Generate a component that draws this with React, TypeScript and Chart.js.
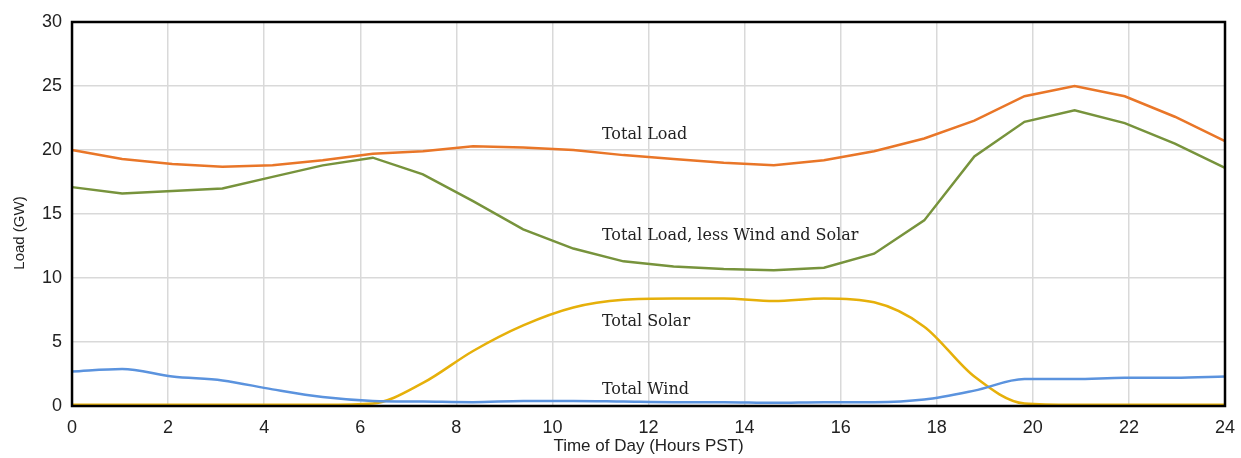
import React, { useEffect, useRef } from "react";
import { Chart, registerables } from "chart.js";

Chart.register(...registerables);

// 24 hourly samples spread evenly over the 0–24 h axis
const hours = ["1","2","3","4","5","6","7","8","9","10","11","12","13","14","15","16","17","18","19","20","21","22","23","24"];
const totalLoad = [20.0, 19.3, 18.9, 18.7, 18.8, 19.2, 19.7, 19.9, 20.3, 20.2, 20.0, 19.6, 19.3, 19.0, 18.8, 19.2, 19.9, 20.9, 22.3, 24.2, 25.0, 24.2, 22.6, 20.7];
const netLoad = [17.1, 16.6, 16.8, 17.0, 17.9, 18.8, 19.4, 18.1, 16.0, 13.8, 12.3, 11.3, 10.9, 10.7, 10.6, 10.8, 11.9, 14.5, 19.5, 22.2, 23.1, 22.1, 20.5, 18.6];
const totalSolar = [0.1, 0.1, 0.1, 0.1, 0.1, 0.1, 0.2, 1.8, 4.3, 6.3, 7.7, 8.3, 8.4, 8.4, 8.2, 8.4, 8.1, 6.2, 2.3, 0.2, 0.1, 0.1, 0.1, 0.1];
const totalWind = [2.7, 2.9, 2.3, 2.0, 1.3, 0.7, 0.4, 0.35, 0.3, 0.4, 0.4, 0.35, 0.3, 0.3, 0.25, 0.3, 0.3, 0.5, 1.2, 2.1, 2.1, 2.2, 2.2, 2.3];

const xTicks = [0, 2, 4, 6, 8, 10, 12, 14, 16, 18, 20, 22, 24];
const yTicks = [0, 5, 10, 15, 20, 25, 30];
const yTitle = "Load (GW)";
const xTitle = "Time of Day (Hours PST)";

// in-chart series labels, anchored in data units (hour, GW)
const labelTexts = ["Total Load", "Total Load, less Wind and Solar", "Total Solar", "Total Wind"];
const labelHours = [11.03, 11.03, 11.03, 11.03];
const labelValues = [21.2, 13.3, 6.6, 1.3];

const seriesLabelsPlugin = {
  id: "seriesLabels",
  afterDatasetsDraw(chart: any) {
    const { ctx, scales } = chart;
    ctx.save();
    ctx.font = "16px 'DejaVu Serif', 'Liberation Serif', serif";
    ctx.fillStyle = "#222";
    ctx.textAlign = "left";
    ctx.textBaseline = "middle";
    labelTexts.forEach((t, i) => {
      ctx.fillText(t, scales.x.getPixelForValue(labelHours[i]), scales.y.getPixelForValue(labelValues[i]));
    });
    ctx.restore();
  },
};

const yTitlePlugin = {
  id: "yTitle",
  afterDraw(chart: any) {
    const { ctx } = chart;
    ctx.save();
    ctx.translate(20, 233);
    ctx.rotate(-Math.PI / 2);
    ctx.font = "15px 'Liberation Sans', Arial, sans-serif";
    ctx.fillStyle = "#222";
    ctx.textAlign = "center";
    ctx.textBaseline = "middle";
    ctx.fillText(yTitle, 0, 0);
    ctx.restore();
  },
};

const borderPlugin = {
  id: "plotBorder",
  afterDatasetsDraw(chart: any) {
    const { ctx, chartArea } = chart;
    ctx.save();
    ctx.strokeStyle = "#000";
    ctx.lineWidth = 2.5;
    ctx.strokeRect(chartArea.left, chartArea.top, chartArea.right - chartArea.left, chartArea.bottom - chartArea.top);
    ctx.restore();
  },
};

export default function App() {
  const ref = useRef<HTMLCanvasElement>(null);
  useEffect(() => {
    document.body.style.margin = "0";
    const chart = new Chart(ref.current!, {
      type: "line",
      data: {
        labels: hours,
        datasets: [
          { label: "Total Load", data: totalLoad, borderColor: "#E97628", borderWidth: 2.5, tension: 0, pointRadius: 0, xAxisID: "xc" },
          { label: "Total Load, less Wind and Solar", data: netLoad, borderColor: "#77933C", borderWidth: 2.5, tension: 0, pointRadius: 0, xAxisID: "xc" },
          { label: "Total Wind", data: totalWind, borderColor: "#5B93DE", borderWidth: 2.5, tension: 0.4, cubicInterpolationMode: "monotone", pointRadius: 0, xAxisID: "xc" },
          { label: "Total Solar", data: totalSolar, borderColor: "#E6B00A", borderWidth: 2.5, tension: 0.4, cubicInterpolationMode: "monotone", pointRadius: 0, xAxisID: "xc" },
        ],
      },
      options: {
        animation: false,
        responsive: false,
        maintainAspectRatio: false,
        layout: { padding: { left: 32, right: 16, top: 22, bottom: 1 } },
        plugins: { legend: { display: false }, tooltip: { enabled: false } },
        scales: {
          xc: { type: "category", display: false, offset: false },
          x: {
            type: "linear",
            position: "bottom",
            min: 0,
            max: 24,
            afterBuildTicks: (axis: any) => { axis.ticks = xTicks.map((v) => ({ value: v })); },
            afterFit: (axis: any) => { axis.paddingLeft = 0; axis.paddingRight = 0; },
            ticks: { color: "#222", font: { family: "'Liberation Sans', Arial, sans-serif", size: 18 }, padding: 11, maxRotation: 0 },
            grid: { color: "#d9d9d9", lineWidth: 1.5, drawTicks: false },
            border: { display: false },
            title: { display: true, text: xTitle, color: "#222", font: { family: "'Liberation Sans', Arial, sans-serif", size: 17 }, padding: { top: -13, bottom: 0 } },
          },
          y: {
            min: 0,
            max: 30,
            afterBuildTicks: (axis: any) => { axis.ticks = yTicks.map((v) => ({ value: v })); },
            afterFit: (axis: any) => { axis.paddingTop = 0; axis.paddingBottom = 0; },
            ticks: { color: "#222", font: { family: "'Liberation Sans', Arial, sans-serif", size: 18 }, padding: 10 },
            grid: { color: "#d9d9d9", lineWidth: 1.5, drawTicks: false },
            border: { display: false },
          },
        },
      },
      plugins: [borderPlugin, seriesLabelsPlugin, yTitlePlugin],
    } as any);
    return () => chart.destroy();
  }, []);
  return (
    <div style={{ width: 1241, height: 458 }}>
      <canvas ref={ref} width={1241} height={458} style={{ width: 1241, height: 458 }} />
    </div>
  );
}
